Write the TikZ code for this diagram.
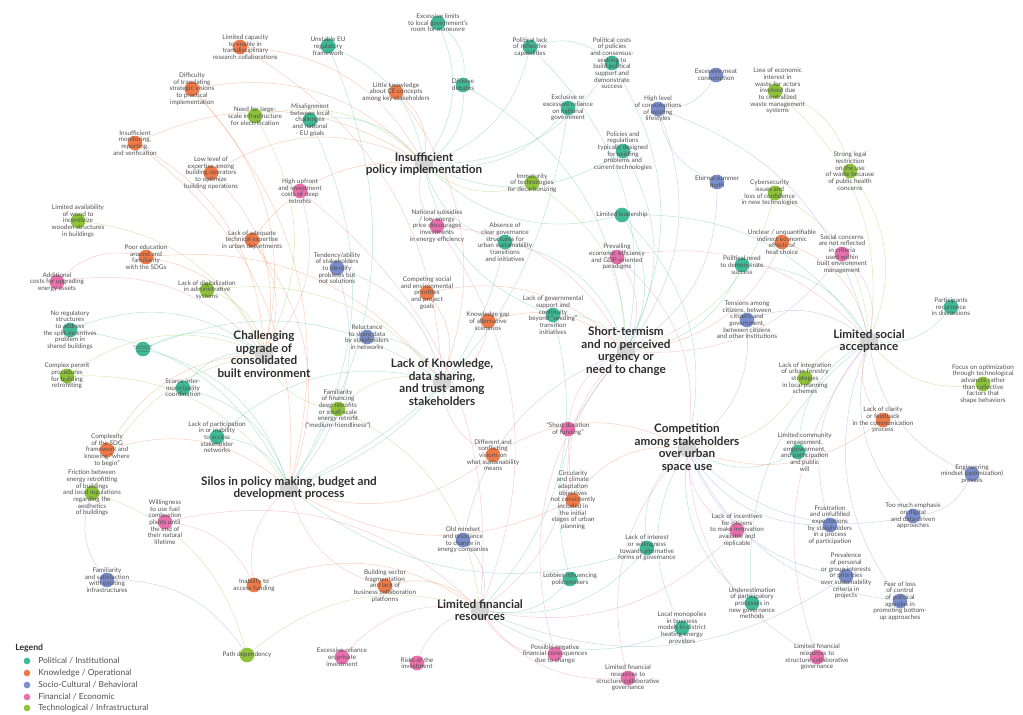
\documentclass[tikz,border=0pt]{standalone}
\usepackage{fontspec}
\setmainfont{Lato}
\usetikzlibrary{backgrounds}

\definecolor{polcol}{RGB}{64,186,150}
\definecolor{knowcol}{RGB}{240,122,72}
\definecolor{soccol}{RGB}{122,142,206}
\definecolor{fincol}{RGB}{232,112,172}
\definecolor{techcol}{RGB}{142,196,58}
\definecolor{hubcol}{RGB}{212,212,212}
\definecolor{txtcol}{RGB}{80,80,80}
\definecolor{hubtxt}{RGB}{45,45,45}

\begin{document}
\begin{tikzpicture}[x=0.75pt,y=0.75pt,yscale=-1,xscale=1,
  dot/.style={circle,inner sep=0pt,minimum size=11pt},
  pol/.style={dot,fill=polcol},
  know/.style={dot,fill=knowcol},
  soc/.style={dot,fill=soccol},
  fin/.style={dot,fill=fincol},
  tech/.style={dot,fill=techcol},
  hub/.style={circle,inner sep=0pt,minimum size=14pt,fill=hubcol},
  lbl/.style={font=\fontsize{4.8}{5}\selectfont,text=txtcol,align=center,inner sep=0pt},
  tinylbl/.style={font=\fontsize{1.8}{2}\selectfont,text=txtcol,align=center,inner sep=0pt},
  hublbl/.style={font=\bfseries\fontsize{8.8}{9.4}\selectfont,text=hubtxt,align=center,inner sep=0pt},
  leglbl/.style={font=\fontsize{6.3}{7}\selectfont,text=txtcol,anchor=west,inner sep=0pt},
  link/.style={line width=0.35pt,opacity=0.38,bend right=28},
]
\useasboundingbox (0,0) rectangle (1023,714);

%Hubs
\node[hub,label={[hublbl]center:{Insufficient\\policy implementation}}] (hpol) at (424,164) {};
\node[hub,label={[hublbl]center:{Challenging\\upgrade of\\consolidated\\built environment}}] (hbuilt) at (264,354) {};
\node[hub,label={[hublbl]center:{Lack of Knowledge,\\data sharing,\\and trust among\\stakeholders}}] (hknow) at (442,382) {};
\node[hub,label={[hublbl]center:{Short-termism\\and no perceived\\urgency or\\need to change}}] (hshort) at (626,351) {};
\node[hub,label={[hublbl]center:{Limited social\\acceptance}}] (hsocial) at (869,341) {};
\node[hub,label={[hublbl]center:{Competition\\among stakeholders\\over urban\\space use}}] (hcomp) at (687,448) {};
\node[hub,label={[hublbl]center:{Silos in policy making, budget and\\development process}}] (hsilos) at (289,488) {};
\node[hub,label={[hublbl]center:{Limited financial\\resources}}] (hfin) at (480,610) {};

%Political / Institutional
\node[pol,label={[lbl]center:{Excessive limits\\to local government's\\room for maneuvre}}] (exclim) at (438,23) {};
\node[pol,label={[lbl]center:{Unstable EU\\regulatory\\framework}}] (unstab) at (328,46) {};
\node[pol,label={[lbl]center:{Divisive\\debates}}] (divis) at (463,85) {};
\node[pol,label={[lbl]center:{Misalignment\\between local\\challenges\\and national\\- EU goals}}] (misal) at (310,120) {};
\node[pol,label={[lbl]center:{Political lack\\of reflective\\capabilities}}] (limrefl) at (530,47) {};
\node[pol,label={[lbl]center:{Political costs\\of policies\\and consensus-\\seeking to\\build political\\support and\\demonstrate\\success}}] (polcost) at (612,63) {};
\node[pol,label={[lbl]center:{Exclusive or\\excessive reliance\\on national\\government}}] (exclus) at (568,108) {};
\node[pol,label={[lbl]center:{Policies and\\regulations\\typically designed\\for existing\\problems and\\current technologies}}] (polic) at (623,151) {};
\node[pol,label={[lbl]center:{Limited leadership}}] (limlead) at (622,215) {};
\node[pol,label={[lbl]center:{Absence of\\clear governance\\structures for\\urban sustainability\\transitions\\and initiatives}}] (absen) at (505,242) {};
\node[pol,label={[lbl]center:{Political need\\to demonstrate\\success}}] (polneed) at (742,265) {};
\node[pol,label={[lbl]center:{Lack of governmental\\support and\\continuity\\beyond ``seeding''\\transition\\initiatives}}] (lackgov) at (553,315) {};
\node[pol,label={[lbl]center:{No regulatory\\structures\\to address\\the split-incentives\\problem in\\shared buildings}}] (noreg) at (70,330) {};
\node[pol,label={[tinylbl]center:{Fragmented policy\\and governance\\structures}}] (fragm) at (143,349) {};
\node[pol,label={[lbl]center:{Scarce inter-\\municipality\\coordination}}] (scarce) at (183,388) {};
\node[pol,label={[lbl]center:{Lack of participation\\in or inability\\to access\\stakeholder\\networks}}] (lackpart) at (217,437) {};
\node[pol,label={[lbl]center:{Participants\\recurrence\\in discussions}}] (partic) at (951,307) {};
\node[pol,label={[lbl,xshift=5]center:{Limited community\\engagement,\\empowerment,\\and participation\\and public\\will}}] (limcomm) at (798,452) {};
\node[pol,label={[lbl]center:{Lack of interest\\or willingness\\towards alternative\\forms of governance}}] (lackint) at (647,548) {};
\node[pol,label={[lbl]center:{Lobbies influencing\\policymakers}}] (lobby) at (570,579) {};
\node[pol,label={[lbl]center:{Underestimation\\of participatory\\processes in\\new governance\\methods}}] (underest) at (752,603) {};
\node[pol,label={[lbl]center:{Local monopolies\\in business\\models in district\\heating energy\\providers}}] (locmono) at (682,628) {};

%Knowledge / Operational
\node[know,label={[lbl,xshift=4]center:{Limited capacity\\to enable in\\transdisciplinary\\research collaborations}}] (limcap) at (240,47) {};
\node[know,label={[lbl]center:{Difficulty\\of translating\\strategic visions\\to practical\\implementation}}] (diffic) at (192,89) {};
\node[know,label={[lbl]center:{Insufficient\\monitoring,\\reporting,\\and verification}}] (insmon) at (135,143) {};
\node[know,label={[lbl]center:{Low level of\\expertise among\\building operators\\to optimize\\building operations}}] (lowlev) at (211,173) {};
\node[know,label={[lbl]center:{Lack of adequate\\technical expertise\\in urban departments}}] (lackadq) at (252,240) {};
\node[know,label={[lbl]center:{Little knowledge\\about CE concepts\\among key stakeholders}}] (litkn) at (396,92) {};
\node[know,label={[lbl]center:{Poor education\\around and\\familiarity\\with the SDGs}}] (pooredu) at (146,257) {};
\node[know,label={[lbl]center:{Complexity\\of the SDG\\framework and\\knowing ``where\\to begin''}}] (complx) at (107,450) {};
\node[know,label={[lbl]center:{Competing social\\and environmental\\priorities\\and project\\goals}}] (compet) at (427,293) {};
\node[know,label={[lbl]center:{Knowledge gap\\of alternative\\scenarios}}] (knowgap) at (488,321) {};
\node[know,label={[lbl]center:{Different and\\conflicting\\visions on\\what sustainability\\means}}] (differ) at (493,455) {};
\node[know,label={[lbl]center:{Circularity\\and climate\\adaptation\\objectives\\not consistently\\included in\\the initial\\stages of urban\\planning}}] (circul) at (573,500) {};
\node[know,label={[lbl]center:{Inability to\\access funding}}] (inabil) at (254,585) {};
\node[know,label={[lbl]center:{Building sector\\fragmentation\\and lack of\\business collaboration\\platforms}}] (buildsec) at (385,586) {};
\node[know,label={[lbl]center:{Unclear / unquantifiable\\indirect economic\\effects of\\heat choice}}] (unclear) at (782,242) {};
\node[know,label={[lbl]center:{Lack of clarity\\or feedback\\in the communication\\process}}] (lackclar) at (883,420) {};

%Socio-Cultural / Behavioral
\node[soc,label={[lbl]center:{Excessive meat\\consumption}}] (excmeat) at (716,75) {};
\node[soc,label={[lbl]center:{High level\\of consumptions\\of existing\\lifestyles}}] (highlev) at (658,109) {};
\node[soc,label={[lbl]center:{Eternal summer\\myth}}] (eternal) at (717,182) {};
\node[soc,label={[lbl]center:{Tendency/ability\\of stakeholders\\to identify\\problems but\\not solutions}}] (tenden) at (337,268) {};
\node[soc,label={[lbl]center:{Reluctance\\to share data\\by stakeholders\\in networks}}] (reluct) at (367,337) {};
\node[soc,label={[lbl]center:{Tensions among\\citizens, between\\citizens and\\government,\\between citizens\\and other institutions}}] (tension) at (747,320) {};
\node[soc,label={[lbl]center:{Old mindset\\and resistance\\to change in\\energy companies}}] (oldmind) at (463,540) {};
\node[soc,label={[lbl]center:{Familiarity\\and satisfaction\\with existing\\infrastructures}}] (faminf) at (107,580) {};
\node[soc,label={[lbl]center:{Engineering\\mindset (optimization)\\prevails}}] (engin) at (972,474) {};
\node[soc,label={[lbl]center:{Too much emphasis\\on digital\\and data-driven\\approaches}}] (toomuch) at (913,516) {};
\node[soc,label={[lbl]center:{Frustration\\and unfulfilled\\expectations\\by stakeholders\\in a process\\of participation}}] (frustr) at (830,525) {};
\node[soc,label={[lbl]center:{Prevalence\\of personal\\or group interests\\or priorities\\over sustainability\\criteria in\\projects}}] (preval) at (846,576) {};
\node[soc,label={[lbl]center:{Fear of loss\\of control\\of political\\agendas in\\promoting bottom-\\up approaches}}] (fear) at (900,601) {};

%Financial / Economic
\node[fin,label={[lbl]center:{High upfront\\and investment\\costs of deep\\retrofits}}] (highup) at (300,191) {};
\node[fin,label={[lbl]center:{National subsidies\\/ low energy\\price discourages\\investments\\in energy efficiency}}] (natsub) at (437,226) {};
\node[fin,label={[lbl]center:{Additional\\costs for upgrading\\energy assets}}] (addit) at (57,282) {};
\node[fin,label={[lbl]center:{Prevailing\\economic efficiency\\and GDP-oriented\\paradigms}}] (prevail) at (617,257) {};
\node[fin,label={[lbl]center:{Social concerns\\are not reflected\\in criteria\\used within\\built environment\\management}}] (socconc) at (842,254) {};
\node[fin,label={[lbl]center:{``Short duration\\of funding''}}] (shortdur) at (568,429) {};
\node[fin,label={[lbl]center:{Willingness\\to use fuel\\combustion\\plants until\\the end of\\their natural\\lifetime}}] (willing) at (165,522) {};
\node[fin,label={[lbl]center:{Excessive reliance\\on private\\investment}}] (excrel) at (342,657) {};
\node[fin,label={[lbl]center:{Risks of the\\investment}}] (risks) at (417,663) {};
\node[fin,label={[lbl]center:{Possible negative\\financial consequences\\due to change}}] (possib) at (555,654) {};
\node[fin,label={[lbl]center:{Lack of incentives\\for citizens\\to make innovation\\available and\\replicable}}] (lackinc) at (737,530) {};
\node[fin,label={[lbl]center:{Limited financial\\resources to\\structure collaborative\\governance}}] (limfina) at (628,678) {};
\node[fin,label={[lbl]center:{Limited financial\\resources to\\structure collaborative\\governance}}] (limfinb) at (817,657) {};

%Technological / Infrastructural
\node[tech,label={[lbl]center:{Need for large-\\scale infrastructure\\for electrification}}] (needlg) at (255,116) {};
\node[tech,label={[lbl]center:{Limited availability\\of wood to\\incentivize\\wooden structures\\in buildings}}] (limwood) at (78,221) {};
\node[tech,label={[lbl]center:{Immaturity\\of technologies\\for decarbonizing}}] (immat) at (532,183) {};
\node[tech,label={[lbl,xshift=2]center:{Loss of economic\\interest in\\waste for actors\\involved due\\to centralized\\waste management\\systems}}] (lossec) at (775,91) {};
\node[tech,label={[lbl]center:{Strong legal\\restriction\\on the use\\of waste because\\of public health\\concerns}}] (strong) at (850,171) {};
\node[tech,label={[lbl,xshift=-4]center:{Cybersecurity\\issues and\\loss of confidence\\in new technologies}}] (cyber) at (775,193) {};
\node[tech,label={[lbl]center:{Lack of digitalization\\in administrative\\systems}}] (lackdig) at (207,290) {};
\node[tech,label={[lbl]center:{Complex permit\\procedures\\for building\\retrofitting}}] (complp) at (67,376) {};
\node[tech,label={[lbl]center:{Friction between\\energy retrofitting\\of buildings\\and local regulations\\regarding the\\aesthetics\\of buildings}}] (frict) at (92,493) {};
\node[tech,label={[lbl]center:{Familiarity\\of financing\\deep retrofits\\or small-scale\\energy retrofit\\(``medium-friendliness'')}}] (famfin) at (338,409) {};
\node[tech,label={[lbl]center:{Path dependency}}] (pathdep) at (247,655) {};
\node[tech,label={[lbl]center:{Lack of integration\\of urban forestry\\strategies\\in local planning\\schemes}}] (lackinteg) at (805,378) {};
\node[tech,label={[lbl]center:{Focus on optimization\\through technological\\advances rather\\than collective\\factors that\\shape behaviors}}] (focus) at (983,384) {};

%Connectors
\begin{scope}[on background layer]
\foreach \a/\b in {exclim/hpol,exclim/divis,unstab/hpol,unstab/hsilos,divis/hpol,divis/hshort,misal/hpol,misal/hsilos,
  limrefl/hpol,limrefl/polcost,limrefl/hshort,polcost/hpol,polcost/hshort,exclus/hpol,exclus/hsilos,polic/hpol,polic/hshort,
  limlead/hpol,limlead/hshort,limlead/hsocial,limlead/hcomp,absen/hpol,absen/hsilos,absen/hshort,polneed/hshort,polneed/hsocial,
  lackgov/hshort,lackgov/hfin,lackgov/hpol,noreg/hbuilt,noreg/hsilos,fragm/hbuilt,fragm/hsilos,fragm/hknow,scarce/hsilos,
  scarce/hbuilt,lackpart/hknow,lackpart/hsilos,partic/hsocial,limcomm/hsocial,limcomm/hcomp,lackint/hcomp,lackint/hfin,
  lackint/hsilos,lobby/hfin,lobby/hshort,underest/hcomp,underest/hsocial,locmono/hfin,locmono/hcomp}
  \draw[link,polcol] (\a) to (\b);
\foreach \a/\b in {limcap/hpol,limcap/hknow,diffic/hpol,diffic/hsilos,diffic/hbuilt,insmon/hpol,insmon/hsilos,insmon/hbuilt,
  lowlev/hbuilt,lowlev/hpol,lackadq/hbuilt,lackadq/hsilos,lackadq/hpol,litkn/hpol,litkn/hknow,pooredu/hbuilt,pooredu/hknow,
  complx/hbuilt,complx/hsilos,compet/hknow,compet/hshort,knowgap/hknow,knowgap/hshort,differ/hknow,differ/hcomp,differ/hsilos,
  circul/hcomp,circul/hsilos,circul/hshort,inabil/hfin,inabil/hsilos,buildsec/hfin,buildsec/hsilos,unclear/hsocial,
  unclear/hshort,lackclar/hsocial,lackclar/hcomp}
  \draw[link,knowcol] (\a) to (\b);
\foreach \a/\b in {excmeat/highlev,highlev/hshort,highlev/hsocial,eternal/highlev,eternal/hshort,tenden/hknow,tenden/hsilos,
  reluct/hknow,tension/hsocial,tension/hcomp,oldmind/hfin,oldmind/hshort,faminf/pathdep,faminf/frict,engin/toomuch,
  engin/hsocial,toomuch/hcomp,toomuch/hsocial,frustr/hsocial,frustr/hcomp,preval/hcomp,preval/hfin,fear/hcomp,fear/hsocial}
  \draw[link,soccol] (\a) to (\b);
\foreach \a/\b in {highup/hbuilt,highup/hfin,natsub/hshort,natsub/hfin,natsub/hpol,addit/hbuilt,addit/pooredu,prevail/hshort,
  prevail/hsocial,prevail/hcomp,socconc/hsocial,socconc/hshort,shortdur/hfin,shortdur/hshort,willing/hfin,willing/inabil,
  excrel/hfin,risks/hfin,possib/hfin,possib/hshort,lackinc/hcomp,lackinc/hfin,limfina/hfin,limfina/hcomp,limfinb/hcomp,
  limfinb/hsocial}
  \draw[link,fincol] (\a) to (\b);
\foreach \a/\b in {needlg/hpol,needlg/hbuilt,limwood/hbuilt,immat/hpol,immat/hshort,lossec/strong,lossec/hsocial,
  strong/hsocial,cyber/hsocial,cyber/hshort,lackdig/hbuilt,lackdig/hknow,complp/hbuilt,complp/hsilos,frict/hbuilt,
  frict/pathdep,famfin/hknow,famfin/hbuilt,famfin/hfin,pathdep/hfin,lackinteg/hsocial,lackinteg/hcomp,focus/hsocial}
  \draw[link,techcol] (\a) to (\b);
\end{scope}

% Legend
\node[font=\bfseries\fontsize{6.5}{7}\selectfont,text=hubtxt,anchor=west,inner sep=0pt] (legtitle) at (15,648) {Legend};
\node[dot,minimum size=5pt,fill=polcol] (legpol) at (27,661) {};
\node[leglbl] (legpoltxt) at (38,661) {Political / Institutional};
\node[dot,minimum size=5pt,fill=knowcol] (legknow) at (27,673) {};
\node[leglbl] (legknowtxt) at (38,673) {Knowledge / Operational};
\node[dot,minimum size=5pt,fill=soccol] (legsoc) at (27,685) {};
\node[leglbl] (legsoctxt) at (38,685) {Socio-Cultural / Behavioral};
\node[dot,minimum size=5pt,fill=fincol] (legfin) at (27,697) {};
\node[leglbl] (legfintxt) at (38,697) {Financial / Economic};
\node[dot,minimum size=5pt,fill=techcol] (legtech) at (27,708) {};
\node[leglbl] (legtechtxt) at (38,708) {Technological / Infrastructural};

\end{tikzpicture}
\end{document}
